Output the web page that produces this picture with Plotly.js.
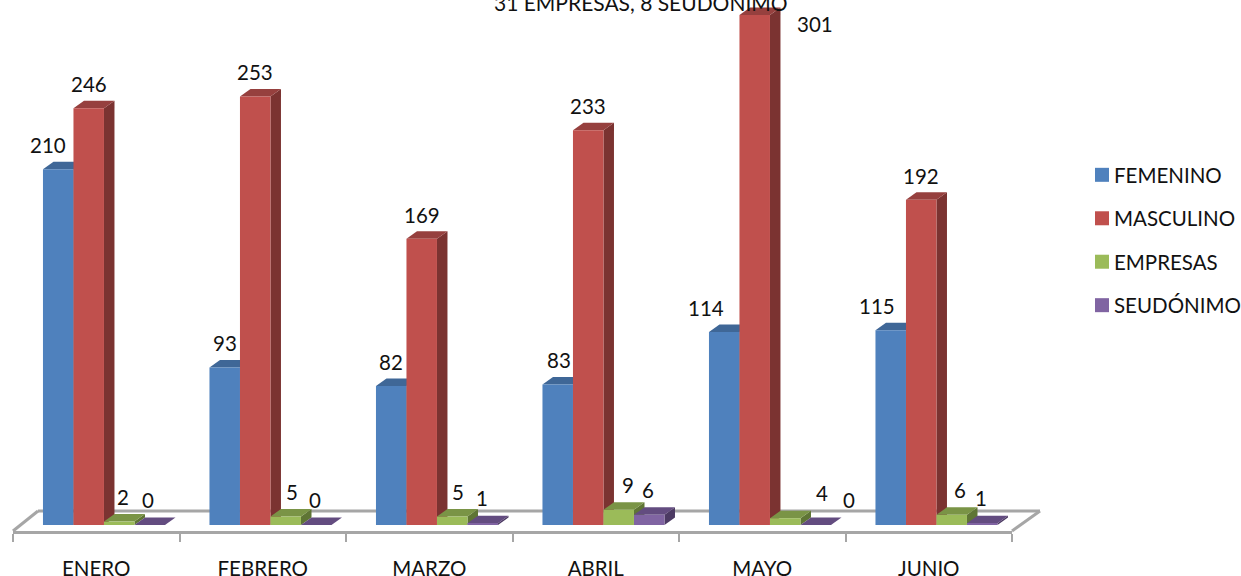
<!DOCTYPE html>
<html><head><meta charset="utf-8">
<script src="https://cdn.plot.ly/plotly-3.0.1.min.js"></script>
<style>html,body{margin:0;padding:0;background:#fff;overflow:hidden}</style>
</head><body><div id="chart" style="width:1241px;height:576px"></div>
<script>
const months = ["ENERO","FEBRERO","MARZO","ABRIL","MAYO","JUNIO"];
const femenino  = [210,93,82,83,114,115];
const masculino = [246,253,169,233,301,192];
const empresas  = [2,5,5,9,4,6];
const seudonimo = [0,0,1,6,0,1];
const seriesNames = ["FEMENINO","MASCULINO","EMPRESAS","SEUDÓNIMO"];
const seriesValues = [femenino,masculino,empresas,seudonimo];
const frontColors = ["#4F81BD","#C0504D","#9BBB59","#8064A2"];
const topColors   = ["#3F6797","#96403E","#7A9446","#634C80"];
const sideColors  = ["#2F4D71","#7B3331","#5F7535","#4C3A63"];
const chartTitle = "31 EMPRESAS, 8 SEUDÓNIMO";

// layout constants (pixels)
const W=1241,H=576,ML=13,MR=229,MB=45;
const plotW=W-ML-MR, plotH=H-MB;
const catPx=plotW/6, unitPx=1.694, zeroY=525;
const yMin=-(H-MB-zeroY)/unitPx, yMax=zeroY/unitPx;
const barW=30.5/catPx, barStart=-0.32;
const dX=10.5/catPx, dY=7.5/unitPx;

// label nudges in px per series and month
const labelDx=[[-10,0,0,1,-18,-14],[0,0,0,0,60,0],[4,6,6,9,37,8],[-2,-1,-1,-1,33,-1]];
const labelDy=[[24,24,24,24,24,24],[24,24,24,24,-9,24],[25,25,25,25,25,25],[25,25,25,25,25,25]];

const traces=seriesNames.map((n,s)=>({
  type:"bar",name:n,x:months,y:seriesValues[s],
  width:barW,offset:barStart+s*barW,
  marker:{color:frontColors[s]},legendgroup:n,hoverinfo:"x+y+name"
}));

// floor outline: paper coordinates so that it may run past the plot's right edge
const shapes=[];
const ln=(x0,y0,x1,y1)=>({type:"line",xref:"paper",yref:"paper",x0:(x0-ML)/plotW,y0:1-y0/plotH,x1:(x1-ML)/plotW,y1:1-y1/plotH,
  layer:"below",line:{color:"#A6A6A6",width:3}});
shapes.push(ln(38,511,1040,511));
shapes.push(ln(13,531,38,511));
shapes.push(ln(1012,531,1040,511));
months.forEach((m,i)=>{
  seriesValues.forEach((vals,s)=>{
    const v=vals[i],a=i+barStart+s*barW,b=a+barW;
    shapes.push({type:"path",xref:"x",yref:"y",layer:"below",line:{width:0},fillcolor:sideColors[s],
      path:`M${b},0L${b+dX},${dY}L${b+dX},${v+dY}L${b},${v}Z`});
    shapes.push({type:"path",xref:"x",yref:"y",layer:"below",line:{width:0},fillcolor:topColors[s],
      path:`M${a},${v}L${a+dX},${v+dY}L${b+dX},${v+dY}L${b},${v}Z`});
  });
});

const font={family:"Lato, sans-serif",size:20.5,color:"#111"};
const annotations=[];
seriesValues.forEach((vals,s)=>vals.forEach((v,i)=>{
  annotations.push({xref:"x",yref:"y",x:i+barStart+(s+0.5)*barW,y:v,text:String(v),showarrow:false,
    xanchor:"center",yanchor:"middle",xshift:labelDx[s][i],yshift:labelDy[s][i],font});
}));
annotations.push({xref:"paper",yref:"paper",x:(641-ML)/plotW,y:1,text:chartTitle,showarrow:false,
  xanchor:"center",yanchor:"middle",yshift:-2,font:{...font,size:21}});

Plotly.newPlot("chart",traces,{
  width:W,height:H,margin:{l:ML,r:MR,t:0,b:MB,pad:0},
  paper_bgcolor:"#fff",plot_bgcolor:"rgba(0,0,0,0)",
  barmode:"overlay",showlegend:true,
  legend:{xref:"container",yref:"container",x:1074/W,xanchor:"left",y:1-(155/H),yanchor:"top",font,tracegroupgap:13.8,itemclick:false,itemdoubleclick:false},
  xaxis:{type:"category",range:[-0.5,5.5],tickson:"boundaries",ticks:"outside",ticklen:8,tickwidth:2,tickcolor:"#A6A6A6",
    showline:true,linecolor:"#A6A6A6",linewidth:3,showgrid:false,zeroline:false,tickfont:font,ticklabelstandoff:17,fixedrange:true},
  yaxis:{visible:false,range:[yMin,yMax],showgrid:false,zeroline:false,fixedrange:true},
  shapes,annotations
},{displayModeBar:false}).then(()=>{
  // enlarge and nudge legend swatches toward their labels
  document.querySelectorAll(".legend .legendpoints path").forEach(p=>{
    p.setAttribute("d","M7,7H-7V-7H7Z");
    p.setAttribute("transform","translate(28,0)");
  });
});
</script></body></html>
